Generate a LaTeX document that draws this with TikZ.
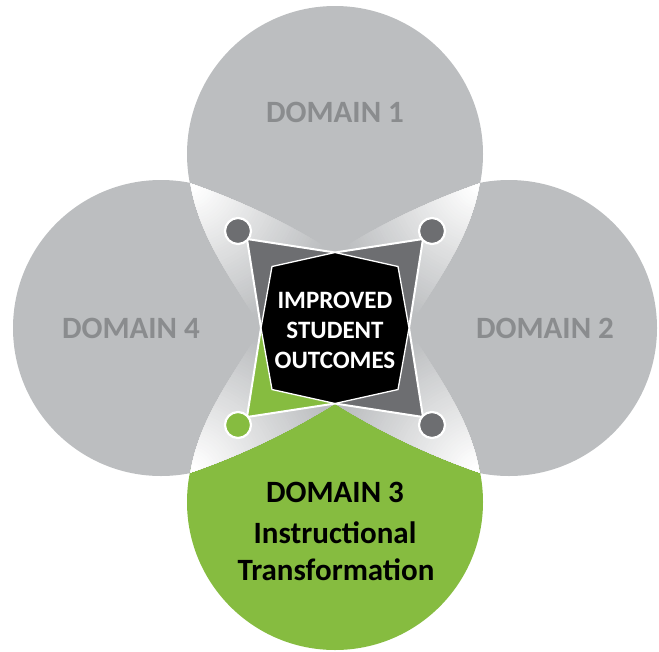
\documentclass[tikz,border=0pt]{standalone}
\usepackage{fontspec}
\setmainfont{Carlito}
\definecolor{circgray}{HTML}{BCBEC0}
\definecolor{labgray}{HTML}{8A8C8E}
\definecolor{darkg}{HTML}{6D6E71}
\definecolor{dgreen}{HTML}{86BC40}
\newcommand\Beam[2]{%
  \begin{scope}[shift={(335,328)},xscale=#1,yscale=#2]
    \clip (-144.5,-144.5) .. controls (-93.7,-126.9) and (-45.6,-103.9) .. (0,-75.5) -- (0,0) -- (-74,0) .. controls (-101.1,-46.4) and (-135.4,-89.3) .. (-144.5,-144.5) -- cycle;
    \foreach \r in {200,197,...,2}{%
      \pgfmathtruncatemacro\g{max(0,min(100,(\r-8)/1.4))}%
      \fill[circgray!\g!white] (-144.5,-144.5) circle (\r);
    }
  \end{scope}}
\tikzset{
  dlab/.style={font=\fontsize{31}{37}\selectfont\bfseries, inner sep=0pt, anchor=base},
  clab/.style={font=\fontsize{25}{30}\selectfont\bfseries, inner sep=0pt, anchor=base, text=white},
  starline/.style={draw=white, line width=2, line join=miter},
  octo/.style={draw=white, line width=1.3, fill=black, line join=miter},
  knob/.style={draw=white, line width=2.2}
}
\begin{document}
\begin{tikzpicture}[x=1pt,y=-1pt]
\useasboundingbox (0,0) rectangle (659,651);
% domain circles
\fill[circgray] (335,154) circle (148);
\fill[circgray] (161,328) circle (148);
\fill[circgray] (509,328) circle (148);
\fill[dgreen] (335,502) circle (148);
% light beams between circles
\Beam{1}{1}
\Beam{-1}{1}
\Beam{1}{-1}
\Beam{-1}{-1}
% central star
\begin{scope}[shift={(335,328)}]
  \fill[darkg] (-88,-89) -- (0,-75.5) -- (88,-89) -- (74,0) -- (88,89) -- (0,75.5) -- (-88,89) -- (-74,0) -- cycle;
  \fill[dgreen] (0,0) -- (-74,0) -- (-88,89) -- (0,75.5) -- cycle;
  \path[starline] (-88,-89) -- (0,-75.5) -- (88,-89) -- (74,0) -- (88,89) -- (0,75.5) -- (-88,89) -- (-74,0) -- cycle;
  \path[octo] (0,-75.5) -- (63,-61.5) -- (74,0) -- (63,61.5) -- (0,75.5) -- (-63,61.5) -- (-74,0) -- (-63,-61.5) -- cycle;
  \path[knob, fill=darkg] (-97,-97) circle (13);
  \path[knob, fill=darkg] (97,-97) circle (13);
  \path[knob, fill=darkg] (97,97) circle (13);
  \path[knob, fill=dgreen] (-97,97) circle (13);
\end{scope}
% labels
\node[dlab, text=labgray] (d1) at (335,122) {DOMAIN 1};
\node[dlab, text=labgray] (d4) at (131,338) {DOMAIN 4};
\node[dlab, text=labgray] (d2) at (545,338) {DOMAIN 2};
\node[dlab, text=black] (d3) at (335,502) {DOMAIN 3};
\node[dlab, text=black] (d3b) at (335,543) {Instructional};
\node[dlab, text=black] (d3c) at (336,580) {Transformation};
\node[clab] (c1) at (335,308) {IMPROVED};
\node[clab] (c2) at (335,338) {STUDENT};
\node[clab] (c3) at (335,368) {OUTCOMES};
\end{tikzpicture}
\end{document}
